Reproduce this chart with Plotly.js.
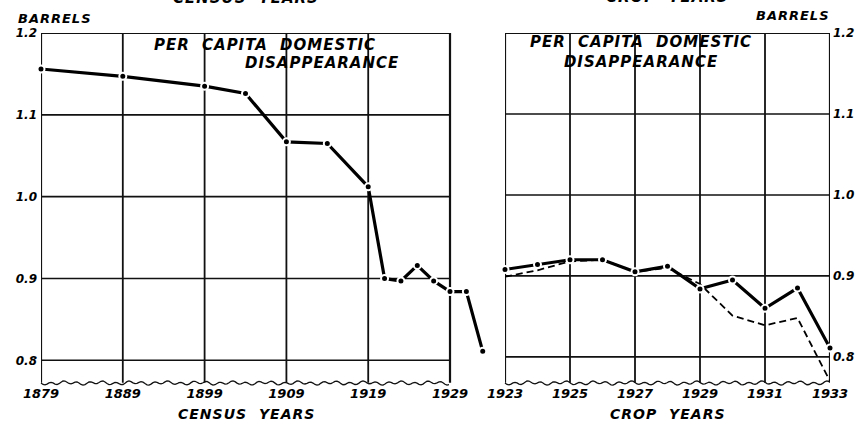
<!DOCTYPE html>
<html>
<head>
<meta charset="utf-8">
<script src="https://cdn.plot.ly/plotly-3.0.1.min.js"></script>
<style>
html,body{margin:0;padding:0;background:#fff;}
#chart{width:857px;height:422px;}
.annotation-text{letter-spacing:1px;word-spacing:6px;}
</style>
</head>
<body>
<div id="chart"></div>
<script>
// ---- data ----
const censusYears = [1879, 1889, 1899, 1904, 1909, 1914, 1919, 1921, 1923, 1925, 1927, 1929, 1931, 1933];
const censusValues = [1.156, 1.147, 1.135, 1.126, 1.067, 1.065, 1.012, 0.900, 0.897, 0.916, 0.897, 0.884, 0.884, 0.811];

const cropYears = [1923, 1924, 1925, 1926, 1927, 1928, 1929, 1930, 1931, 1932, 1933];
const cropSolid = [0.908, 0.914, 0.920, 0.920, 0.905, 0.912, 0.884, 0.895, 0.860, 0.885, 0.811];
const cropDashed = [0.899, 0.907, 0.918, 0.920, 0.905, 0.910, 0.890, 0.851, 0.839, 0.848, 0.770];

const censusTicks = [1879, 1889, 1899, 1909, 1919, 1929];
const cropTicks = [1923, 1925, 1927, 1929, 1931, 1933];
const barrelTicks = [0.8, 0.9, 1.0, 1.1, 1.2];
const barrelTickText = ['0.8', '0.9', '1.0', '1.1', '1.2'];
const rightTickText = ['0.8', '0.9', '1.0', '1.1', '1.2'];

const W = 857, H = 422;
const px = v => v / W;
const py = v => 1 - v / H;

const F = {family: 'DejaVu Sans', color: '#000', weight: 'bold', style: 'italic'};
const ink = '#111';

const traces = [
  {x: censusYears, y: censusValues, xaxis: 'x', yaxis: 'y', mode: 'lines+markers',
   line: {color: '#000', width: 3.2}, marker: {color: '#000', size: 7, line: {color: '#fff', width: 2}},
   cliponaxis: false, hoverinfo: 'skip'},
  {x: cropYears, y: cropDashed, xaxis: 'x2', yaxis: 'y2', mode: 'lines',
   line: {color: '#000', width: 1.8, dash: '7px,4px'}, hoverinfo: 'skip'},
  {x: cropYears, y: cropSolid, xaxis: 'x2', yaxis: 'y2', mode: 'lines+markers',
   line: {color: '#000', width: 3.2}, marker: {color: '#000', size: 7, line: {color: '#fff', width: 2}},
   cliponaxis: false, hoverinfo: 'skip'}
];

const yDomBottom = (H - 382) / H, yDomTop = (H - 33) / H;

const shapes = [];
function frame(xref, yref, ticks, yticks, x0px, x1px) {
  ticks.forEach((t, i) => {
    shapes.push({type: 'line', xref: xref, yref: 'paper', x0: t, x1: t, y0: yDomBottom - 0.002, y1: yDomTop,
      line: {color: ink, width: (i === 0 || i === ticks.length - 1) ? 2.2 : 1.8}, layer: 'below'});
  });
  yticks.forEach(v => {
    shapes.push({type: 'line', xref: xref, yref: yref, x0: ticks[0], x1: ticks[ticks.length - 1], y0: v, y1: v,
      line: {color: ink, width: v === 1.2 ? 2 : 1.6}, layer: 'below'});
  });
  // wavy break line at bottom
  let d = '';
  const yb = 383;
  for (let xp = x0px; xp <= x1px; xp += 2) {
    const yy = yb + 1.4 * Math.sin((xp - x0px) / 13 * 2 * Math.PI) + 0.8 * Math.sin((xp - x0px) / 5.3);
    d += (d ? ' L' : 'M') + px(xp).toFixed(5) + ',' + py(yy).toFixed(5);
  }
  shapes.push({type: 'path', xref: 'paper', yref: 'paper', path: d, line: {color: ink, width: 1.3}, layer: 'below'});
}
frame('x', 'y', censusTicks, barrelTicks, 41, 450);
frame('x2', 'y2', cropTicks, barrelTicks, 505, 830);

function ann(text, xp, yp, size, xanchor, yanchor, align) {
  return {text: text, x: px(xp), y: py(yp), xref: 'paper', yref: 'paper', showarrow: false,
    xanchor: xanchor || 'center', yanchor: yanchor || 'middle', align: align || 'center',
    font: Object.assign({}, F, {size: size})};
}

const annotations = [
  ann('CENSUS YEARS', 246, 9, 15, 'center', 'bottom'),
  ann('CROP YEARS', 667, 8, 15, 'center', 'bottom'),
  ann('BARRELS', 16, 19, 13, 'left'),
  ann('BARRELS', 832, 16, 13, 'right'),
  ann('PER CAPITA DOMESTIC', 265, 45, 15),
  ann('DISAPPEARANCE', 322, 63, 15),
  ann('PER CAPITA DOMESTIC<br>DISAPPEARANCE', 641, 52, 15),
  ann('CENSUS YEARS', 246, 414, 14),
  ann('CROP YEARS', 668, 414, 14)
];

const tickFont = Object.assign({}, F, {size: 13});
const layout = {
  width: W, height: H,
  margin: {l: 0, r: 0, t: 0, b: 0, pad: 0},
  paper_bgcolor: '#fff', plot_bgcolor: 'rgba(0,0,0,0)',
  showlegend: false,
  xaxis: {domain: [px(41), px(495)], range: [1879, 1934.5], tickvals: censusTicks, ticktext: censusTicks.map(String),
    showgrid: false, zeroline: false, showline: false, ticks: '', tickfont: tickFont, ticklabelstandoff: 2, fixedrange: true},
  yaxis: {domain: [yDomBottom, yDomTop], range: [0.7735, 1.2], tickvals: barrelTicks, ticktext: barrelTickText,
    showgrid: false, zeroline: false, showline: false, ticks: '', tickfont: Object.assign({}, F, {size: 12}), ticklabelstandoff: 3},
  xaxis2: {domain: [px(505), px(830)], range: [1923, 1933], tickvals: cropTicks, ticktext: cropTicks.map(String),
    anchor: 'y2', showgrid: false, zeroline: false, showline: false, ticks: '', tickfont: tickFont, ticklabelstandoff: 2},
  yaxis2: {domain: [yDomBottom, yDomTop], range: [0.769, 1.2], tickvals: barrelTicks, ticktext: rightTickText,
    anchor: 'x2', side: 'right', showgrid: false, zeroline: false, showline: false, ticks: '',
    tickfont: Object.assign({}, F, {size: 12}), ticklabelstandoff: 2},
  shapes: shapes,
  annotations: annotations
};

Plotly.newPlot('chart', traces, layout, {staticPlot: true, displayModeBar: false});
</script>
</body>
</html>
